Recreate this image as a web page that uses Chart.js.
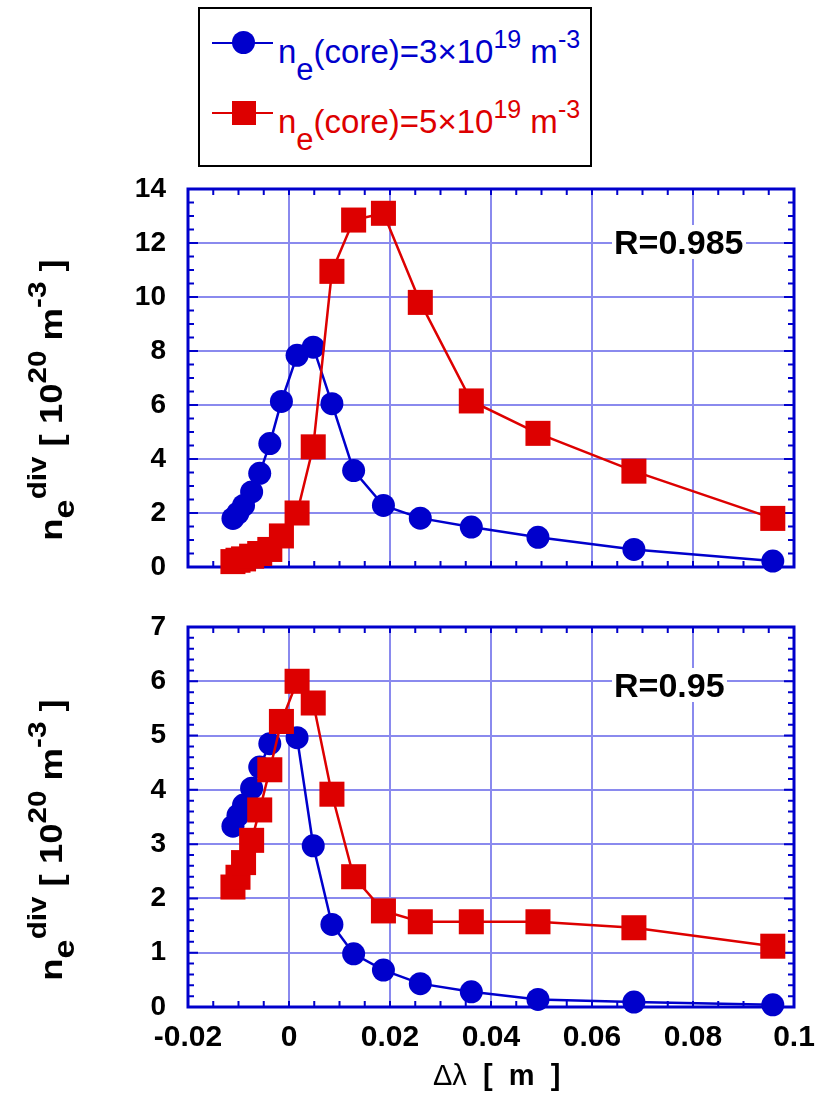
<!DOCTYPE html>
<html>
<head>
<meta charset="utf-8">
<script src="https://cdn.jsdelivr.net/npm/chart.js@4.4.0/dist/chart.umd.min.js"></script>
<style>
  body { margin: 0; background: #fff; width: 821px; height: 1093px; position: relative; overflow: hidden;
         font-family: "Liberation Sans", Arial, sans-serif; }
  .abs { position: absolute; }
  .legend { left: 198px; top: 7px; width: 394px; height: 160px; border: 2px solid #000; box-sizing: border-box; }
  .ln { height: 2px; width: 61px; left: 212px; }
  .lbl { font-size: 33px; line-height: 33px; white-space: nowrap; left: 278px; }
  .lbl .sb { font-size: 31px; vertical-align: -17px; line-height: 0; }
  .lbl .sp { font-size: 25px; vertical-align: 15px; line-height: 0; }
  .rlab { font-size: 34px; line-height: 34px; font-weight: bold; background: #fff; padding: 0 2px; left: 612px; }
  .ytitle { font-size: 32px; line-height: 32px; font-weight: bold; white-space: nowrap;
            transform: translate(-50%, -50%) rotate(-90deg) scaleX(1.14); }
  .ytitle .sb { font-size: 30px; vertical-align: -12px; line-height: 0; }
  .ytitle .sp { font-size: 26px; vertical-align: 16px; line-height: 0; }
  .xtitle { font-size: 29px; line-height: 29px; white-space: nowrap; left: 433px; top: 1061px; }
</style>
</head>
<body>

<div class="abs legend"></div>
<div class="abs ln" style="top:42px;background:#0000cc"></div>
<div class="abs" style="left:232px;top:31px;width:23px;height:23px;border-radius:50%;background:#0000cc"></div>
<div class="abs lbl" style="top:35px;color:#0000cc">n<span class="sb">e</span>(core)=3×10<span class="sp">19</span> m<span class="sp">-3</span></div>
<div class="abs ln" style="top:112px;background:#dd0000"></div>
<div class="abs" style="left:232px;top:101px;width:24px;height:24px;background:#dd0000"></div>
<div class="abs lbl" style="top:105px;color:#dd0000">n<span class="sb">e</span>(core)=5×10<span class="sp">19</span> m<span class="sp">-3</span></div>

<div class="abs" style="left:0;top:170px;width:821px;height:420px"><canvas id="topChart" width="821" height="420"></canvas></div>
<div class="abs" style="left:0;top:608px;width:821px;height:485px"><canvas id="bottomChart" width="821" height="485"></canvas></div>

<div class="abs rlab" style="top:225px">R=0.985</div>
<div class="abs rlab" style="top:668px">R=0.95</div>

<div class="abs ytitle" style="left:51px;top:400px">n<span class="sb">e</span><span class="sp">div</span> [ 10<span class="sp">20</span> m<span class="sp">-3</span> ]</div>
<div class="abs ytitle" style="left:51px;top:840px">n<span class="sb">e</span><span class="sp">div</span> [ 10<span class="sp">20</span> m<span class="sp">-3</span> ]</div>

<div class="abs xtitle">Δλ&nbsp; <b>[&nbsp; m&nbsp; ]</b></div>

<script>
// =============================
// Data
// =============================

const dLambda = [-0.0111, -0.0101, -0.0090, -0.0074, -0.0058, -0.0038, -0.0015, 0.0016, 0.0048,
                 0.0085, 0.0128, 0.0187, 0.0260, 0.0361, 0.0493, 0.0683, 0.0958];

// upper panel (R=0.985)
const topCore3 = [1.80, 2.00, 2.28, 2.78, 3.47, 4.57, 6.13, 7.84, 8.14,
                  6.05, 3.57, 2.28, 1.81, 1.48, 1.10, 0.65, 0.22];
const topCore5 = [0.20, 0.25, 0.30, 0.40, 0.50, 0.65, 1.15, 2.00, 4.45,
                  10.95, 12.85, 13.10, 9.80, 6.15, 4.95, 3.55, 1.80];

// lower panel (R=0.95)
const botCore3 = [3.33, 3.53, 3.72, 4.03, 4.42, 4.85, 5.25, 4.96, 2.97,
                  1.52, 0.98, 0.68, 0.43, 0.28, 0.14, 0.09, 0.04];
const botCore5 = [2.21, 2.39, 2.66, 3.07, 3.63, 4.37, 5.26, 6.00, 5.60,
                  3.92, 2.40, 1.77, 1.57, 1.57, 1.57, 1.46, 1.12];

const xTicks = [-0.02, 0, 0.02, 0.04, 0.06, 0.08, 0.1];
const yTicksTop = [0, 2, 4, 6, 8, 10, 12, 14];
const yTicksBottom = [0, 1, 2, 3, 4, 5, 6, 7];

// =============================
// Styles
// =============================

const BLUE = "#0000cc";
const RED = "#dd0000";
const GRID = "#8a8aee";

Chart.defaults.font.family = "'Liberation Sans', Arial, sans-serif";

function pairs(xs, ys) {
    return xs.map((x, i) => ({ x: x, y: ys[i] }));
}

// no extra room for edge labels, the layout padding sets the plot box
function noPad(s) {
    s.paddingTop = 0;
    s.paddingBottom = 0;
    s.paddingLeft = 0;
    s.paddingRight = 0;
}

// frame + inward minor ticks on all four sides
const frameTicks = {
    id: "frameTicks",
    beforeDatasetsDraw(chart, args, opts) {
        const ctx = chart.ctx;
        const a = chart.chartArea;
        const x = chart.scales.x;
        const y = chart.scales.y;

        ctx.save();
        ctx.strokeStyle = BLUE;
        ctx.lineWidth = 2;
        ctx.beginPath();

        const nx = Math.round((x.max - x.min) / opts.xMinor);
        for (let i = 1; i < nx; i++) {
            const px = x.getPixelForValue(x.min + i * opts.xMinor);
            ctx.moveTo(px, a.top);
            ctx.lineTo(px, a.top + 6);
            ctx.moveTo(px, a.bottom);
            ctx.lineTo(px, a.bottom - 6);
        }

        const ny = Math.round((y.max - y.min) / opts.yMinor);
        const per = Math.round(opts.yMajor / opts.yMinor);
        for (let i = 1; i < ny; i++) {
            const py = y.getPixelForValue(y.min + i * opts.yMinor);
            const len = i % per === 0 ? 10 : 6;
            ctx.moveTo(a.left, py);
            ctx.lineTo(a.left + len, py);
            ctx.moveTo(a.right, py);
            ctx.lineTo(a.right - len, py);
        }
        ctx.stroke();

        ctx.lineWidth = 3;
        ctx.strokeRect(a.left, a.top, a.right - a.left, a.bottom - a.top);
        ctx.restore();
    }
};

function makeChart(id, core3, core5, yTicks, yMinor, showX) {

    return new Chart(document.getElementById(id), {
        type: "line",
        data: {
            datasets: [
                {
                    label: "ne(core)=3e19",
                    data: pairs(dLambda, core3),
                    borderColor: BLUE,
                    backgroundColor: BLUE,
                    borderWidth: 2.5,
                    pointStyle: "circle",
                    pointRadius: 11.5,
                    pointBorderWidth: 0,
                    tension: 0,
                    clip: false,
                    order: 2
                },
                {
                    label: "ne(core)=5e19",
                    data: pairs(dLambda, core5),
                    borderColor: RED,
                    backgroundColor: RED,
                    borderWidth: 2.5,
                    pointStyle: "rect",
                    pointRadius: 17.7,
                    pointBorderWidth: 0,
                    tension: 0,
                    clip: false,
                    order: 1
                }
            ]
        },
        options: {
            responsive: false,
            animation: false,
            events: [],
            layout: {
                padding: { left: 0, right: 27, top: 19, bottom: showX ? 26 : 23 }
            },
            plugins: {
                legend: { display: false },
                tooltip: { enabled: false },
                frameTicks: { xMinor: 0.005, yMinor: yMinor, yMajor: yTicks[1] - yTicks[0] }
            },
            scales: {
                x: {
                    type: "linear",
                    min: xTicks[0],
                    max: xTicks[xTicks.length - 1],
                    afterBuildTicks: s => { s.ticks = xTicks.map(v => ({ value: v })); },
                    afterFit: s => { s.height = showX ? 60 : 0; noPad(s); },
                    grid: { color: GRID, lineWidth: 2, drawTicks: false },
                    border: { display: false },
                    ticks: {
                        display: showX,
                        padding: 13,
                        color: "#000",
                        font: { size: 30, weight: "bold" },
                        callback: v => String(Number(v.toFixed(2)))
                    }
                },
                y: {
                    min: yTicks[0],
                    max: yTicks[yTicks.length - 1],
                    afterBuildTicks: s => { s.ticks = yTicks.map(v => ({ value: v })); },
                    afterFit: s => { s.width = 188; noPad(s); },
                    grid: { color: GRID, lineWidth: 2, drawTicks: false },
                    border: { display: false },
                    ticks: {
                        padding: 22,
                        color: "#000",
                        font: { size: 28, weight: "bold" }
                    }
                }
            }
        },
        plugins: [frameTicks]
    });
}

makeChart("topChart", topCore3, topCore5, yTicksTop, 0.5, false);
makeChart("bottomChart", botCore3, botCore5, yTicksBottom, 0.2, true);
</script>
</body>
</html>
